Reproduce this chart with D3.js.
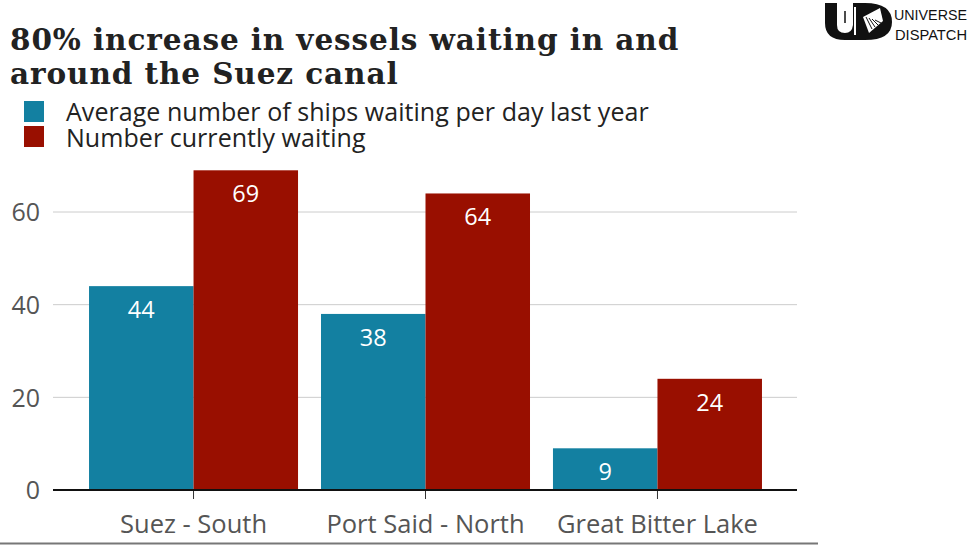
<!DOCTYPE html>
<html><head><meta charset="utf-8">
<script src="https://cdn.jsdelivr.net/npm/d3@7"></script>
<style>
html,body{margin:0;padding:0;background:#fff;}
svg{display:block;}
</style></head>
<body>
<svg id="chart" width="976" height="549"></svg>
<script>
const categories = ["Suez - South", "Port Said - North", "Great Bitter Lake"];
const seriesNames = ["Average number of ships waiting per day last year", "Number currently waiting"];
const lastYear = [44, 38, 9];
const current = [69, 64, 24];
const yTicks = [0, 20, 40, 60];
const colors = ["#1380A1", "#990F00"];
const titleLines = ["80% increase in vessels waiting in and", "around the Suez canal"];

const svg = d3.select("#chart");
const sans = "'Open Sans', 'Noto Sans', sans-serif";
const serif = "'DejaVu Serif', serif";

// Title
svg.append("g").selectAll("text").data(titleLines).join("text")
  .attr("x", 10).attr("y", (d, i) => 50 + i * 34)
  .attr("font-family", serif).attr("font-weight", "bold")
  .attr("font-size", 29.5).attr("letter-spacing", 0.9).attr("fill", "#222")
  .text(d => d);

// Legend
const leg = svg.append("g");
seriesNames.forEach((n, i) => {
  leg.append("rect").attr("x", 24).attr("y", 101 + i * 25).attr("width", 20).attr("height", 21).attr("fill", colors[i]);
  leg.append("text").attr("x", 66).attr("y", 121 + i * 26)
    .attr("font-family", sans).attr("font-size", 25).attr("letter-spacing", 0.05).attr("fill", "#222").text(n);
});

// Scales
const x0 = d3.scaleBand().domain(categories).range([54, 797]).paddingInner(0.099).paddingOuter(0.151);
const x1 = d3.scaleBand().domain([0, 1]).range([0, x0.bandwidth()]);
const y = d3.scaleLinear().domain([0, 60]).range([490, 212]);

// Grid
const grid = svg.append("g");
grid.selectAll("line").data(yTicks.filter(t => t > 0)).join("line")
  .attr("x1", 53).attr("x2", 797).attr("y1", d => y(d)).attr("y2", d => y(d))
  .attr("stroke", "#cccccc").attr("stroke-width", 1);

// Y axis labels
const yAxis = svg.append("g").attr("transform", "translate(54,0)")
  .call(d3.axisLeft(y).tickValues(yTicks).tickSize(0).tickPadding(14));
yAxis.select(".domain").remove();
yAxis.selectAll("text").attr("font-family", sans).attr("font-size", 25).attr("fill", "#555").attr("dy", "0.35em");

// Bars
const rows = categories.map((c, i) => ({ cat: c, vals: [lastYear[i], current[i]] }));
const groups = svg.append("g").selectAll("g").data(rows).join("g")
  .attr("transform", d => `translate(${x0(d.cat)},0)`);
groups.selectAll("rect").data(d => d.vals.map((v, k) => ({ v, k }))).join("rect")
  .attr("x", d => x1(d.k)).attr("width", x1.bandwidth())
  .attr("y", d => y(d.v)).attr("height", d => y(0) - y(d.v))
  .attr("fill", d => colors[d.k]);
groups.selectAll("text").data(d => d.vals.map((v, k) => ({ v, k }))).join("text")
  .attr("x", d => x1(d.k) + x1.bandwidth() / 2).attr("y", d => y(d.v) + 32)
  .attr("text-anchor", "middle").attr("font-family", sans).attr("font-size", 23.5)
  .attr("fill", "#fff").text(d => d.v);

// X axis
const xAxis = svg.append("g").attr("transform", "translate(0,490)")
  .call(d3.axisBottom(x0).tickSize(9).tickPadding(16));
xAxis.select(".domain").remove();
xAxis.selectAll(".tick line").attr("stroke", "#333").attr("stroke-width", 1);
xAxis.selectAll("text").attr("font-family", sans).attr("font-size", 25.5).attr("fill", "#555");

// Baseline
svg.append("line").attr("x1", 53).attr("x2", 797).attr("y1", 490).attr("y2", 490)
  .attr("stroke", "#111").attr("stroke-width", 2);

// Bottom rule
svg.append("line").attr("x1", 0).attr("x2", 818).attr("y1", 543.5).attr("y2", 543.5)
  .attr("stroke", "#777").attr("stroke-width", 2);

// Logo
const logo = svg.append("g").attr("transform", "translate(825,3)");
logo.append("path").attr("d", "M0,0 H12 V22 Q12,30 20,30 Q27,30 28,22 V0 H40 Q67,0 67,19 Q67,37 40,37 H20 Q0,37 0,20 Z").attr("fill", "#111");
logo.append("path").attr("d", "M30,4 V32").attr("stroke", "#fff").attr("stroke-width", 2);
logo.append("path").attr("d", "M20,3 L25,15 L20,24 L15,15 Z").attr("fill", "#fff");
logo.append("path").attr("d", "M20,8 V20").attr("stroke", "#111").attr("stroke-width", 1.5);
logo.append("path").attr("d", "M38,14 L55,5 L58,18 L44,30 Z").attr("fill", "#fff");
[0, 1, 2, 3].forEach(k => {
  logo.append("path").attr("d", `M${41 + k * 3},${14 + k * 1} L${47 + k * 3},${26 - k * 2}`).attr("stroke", "#111").attr("stroke-width", 1);
});
svg.append("text").attr("x", 894).attr("y", 20).attr("font-family", "'Liberation Sans Narrow', 'Liberation Sans', sans-serif")
  .attr("font-size", 15.5).attr("fill", "#111").attr("textLength", 73).attr("lengthAdjust", "spacingAndGlyphs").text("UNIVERSE");
svg.append("text").attr("x", 895).attr("y", 40).attr("font-family", "'Liberation Sans Narrow', 'Liberation Sans', sans-serif")
  .attr("font-size", 15.5).attr("fill", "#111").attr("textLength", 72).attr("lengthAdjust", "spacingAndGlyphs").text("DISPATCH");
</script>
</body></html>
